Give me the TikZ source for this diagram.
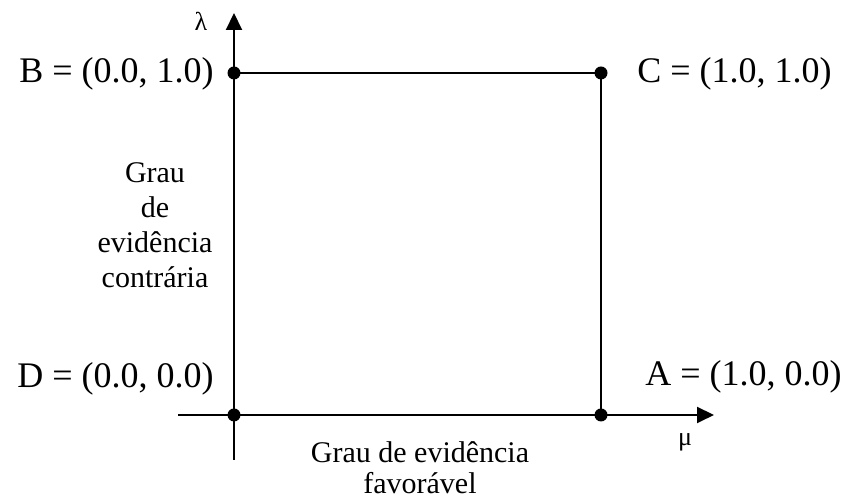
\documentclass[tikz,border=0pt]{standalone}
\usepackage{fontspec}
\setmainfont{Liberation Serif}
\usetikzlibrary{arrows.meta,positioning}

\tikzset{
  ponto/.style={circle,fill=black,inner sep=0pt,minimum size=6.5pt},
  eixo/.style={line width=1pt,-{Triangle[length=8.5pt,width=8pt]}},
  lado/.style={line width=1pt},
  canto/.style={font=\fontsize{18}{20}\selectfont,inner sep=0pt},
  grego/.style={font=\fontsize{13}{15}\selectfont,inner sep=0pt},
}

\begin{document}
\begin{tikzpicture}[x=0.5pt,y=0.5pt]
  \useasboundingbox (0,0) rectangle (847,501);
  % eixos
  \coordinate (xini) at (178,86);
  \coordinate (xfim) at (714,86);
  \coordinate (yini) at (234,41);
  \coordinate (yfim) at (234,488);
  \draw[eixo] (xini) -- (xfim);
  \draw[eixo] (yini) -- (yfim);
  \node[grego] (lambda) at (201,480) {λ};
  \node[grego] (mu) at (685,59) {μ};
  % quadrado
  \node[ponto] (D) at (234,86) {};
  \node[ponto] (A) at (601,86) {};
  \node[ponto] (B) at (234,428) {};
  \node[ponto] (C) at (601,428) {};
  \draw[lado] (B.center) -- (C.center) -- (A.center);
  % rotulos
  \node[canto,anchor=east] (rotB) at (214,427) {B = (0.0, 1.0)};
  \node[canto,anchor=west] (rotC) at (637,427) {C = (1.0, 1.0)};
  \node[canto,anchor=east] (rotD) at (214,122) {D = (0.0, 0.0)};
  \node[canto,anchor=west] (rotA) at (645,124) {A = (1.0, 0.0)};
  \node[font=\fontsize{15}{17.5}\selectfont,align=center] (contraria) at (155,276)
    {Grau\\de\\evidência\\contrária};
  \node[font=\fontsize{15}{15.5}\selectfont,align=center] (favoravel) at (420,33)
    {Grau de evidência\\favorável};
\end{tikzpicture}
\end{document}
